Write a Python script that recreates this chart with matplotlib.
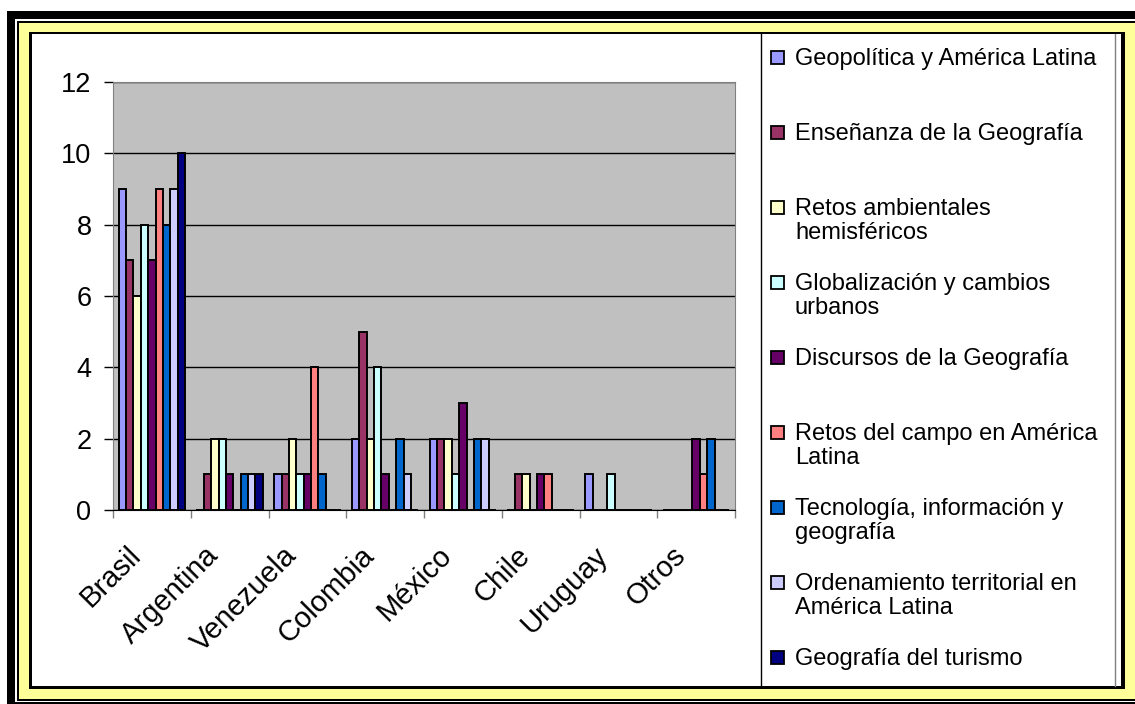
import matplotlib
matplotlib.use("Agg")
import matplotlib.pyplot as plt
from matplotlib.patches import Rectangle
from matplotlib.lines import Line2D
from matplotlib.transforms import ScaledTranslation
import numpy as np

plt.rcParams['font.family'] = ['Liberation Sans', 'DejaVu Sans']

# categories and series (number of papers per country and theme)
countries = ["Brasil", "Argentina", "Venezuela", "Colombia", "México", "Chile", "Uruguay", "Otros"]
themes = [
    "Geopolítica y América Latina",
    "Enseñanza de la Geografía",
    "Retos ambientales\nhemisféricos",
    "Globalización y cambios\nurbanos",
    "Discursos de la Geografía",
    "Retos del campo en América\nLatina",
    "Tecnología, información y\ngeografía",
    "Ordenamiento territorial en\nAmérica Latina",
    "Geografía del turismo",
]
geopolitica = [9, 0, 1, 2, 2, 0, 1, 0]
ensenanza = [7, 1, 1, 5, 2, 1, 0, 0]
retos_ambientales = [6, 2, 2, 2, 2, 1, 0, 0]
globalizacion = [8, 2, 1, 4, 1, 0, 1, 0]
discursos = [7, 1, 1, 1, 3, 1, 0, 2]
retos_campo = [9, 0, 4, 0, 0, 1, 0, 1]
tecnologia = [8, 1, 1, 2, 2, 0, 0, 2]
ordenamiento = [9, 1, 0, 1, 2, 0, 0, 0]
turismo = [10, 1, 0, 0, 0, 0, 0, 0]
series = [geopolitica, ensenanza, retos_ambientales, globalizacion, discursos,
          retos_campo, tecnologia, ordenamiento, turismo]
colors = ["#9999FF", "#993366", "#FFFFCC", "#CCFFFF", "#660066",
          "#FF8080", "#0066CC", "#CCCCFF", "#000080"]

W, H = 1135, 704
fig = plt.figure(figsize=(W / 100, H / 100), dpi=100)
fig.patch.set_facecolor("white")


def frame_rect(x0, y0, x1, y1, color, z=-10):
    # rectangle given in pixel coords (origin top-left)
    fig.add_artist(Rectangle((x0 / W, 1 - y1 / H), (x1 - x0) / W, (y1 - y0) / H,
                             transform=fig.transFigure, facecolor=color,
                             edgecolor="none", zorder=z))


# decorative border (black / white / black / yellow / black)
frame_rect(7, 11, W + 20, H + 20, "black", -10)
frame_rect(15, 19, W + 20, 702, "white", -9)
frame_rect(17, 21, W + 20, 701, "black", -8)
frame_rect(19, 23, W + 20, 699, "#FFFF99", -7)
frame_rect(29, 32, 1125, 689, "black", -6)
frame_rect(32, 34, 1121, 686, "white", -5)

# plot area
ax = fig.add_axes([113 / W, 1 - 510 / H, 622 / W, 428 / H])
ax.set_facecolor("#C0C0C0")
x = np.arange(len(countries))
w = 0.095
for i, (vals, col) in enumerate(zip(series, colors)):
    ax.bar(x + (i - 4) * w, vals, width=w, color=col, edgecolor="black",
           linewidth=1.4, zorder=3)

ax.set_xlim(-0.5, len(countries) - 0.5)
ax.set_ylim(0, 12)
ax.set_yticks(range(0, 13, 2))
ax.tick_params(axis="y", labelsize=19.5, length=6.5, width=1, pad=9, color="black")
ax.yaxis.grid(True, color="black", linewidth=1, zorder=1)
ax.set_axisbelow(True)

ax.set_xticks(x)
ax.set_xticklabels([])
ax.tick_params(axis="x", which="major", length=0)
ax.set_xticks(np.arange(-0.5, len(countries), 1), minor=True)
ax.tick_params(axis="x", which="minor", length=6, width=1, color="#808080")
for s in ax.spines.values():
    s.set_color("#808080")
ax.spines["bottom"].set_color("black")

lab_tr = ax.get_xaxis_transform() + ScaledTranslation(-15 / 100, -41 / 100, fig.dpi_scale_trans)
for xi, name in zip(x, countries):
    ax.text(xi, 0, name, transform=lab_tr, rotation=45, rotation_mode="anchor",
            ha="right", va="center", fontsize=21)

# legend box
fig.add_artist(Line2D([761 / W, 761 / W], [1 - 34 / H, 1 - 686 / H], color="black",
                      linewidth=1, transform=fig.transFigure))
fig.add_artist(Line2D([1115 / W, 1115 / W], [1 - 34 / H, 1 - 686 / H], color="#808080",
                      linewidth=1, transform=fig.transFigure))
for k, (name, col) in enumerate(zip(themes, colors)):
    yc = 57 + 75 * k
    fig.add_artist(Rectangle((771 / W, 1 - (yc + 6.5) / H), 13 / W, 13 / H,
                             transform=fig.transFigure, facecolor=col,
                             edgecolor="black", linewidth=1.3))
    for j, line in enumerate(name.split("\n")):
        fig.text(795 / W, 1 - (yc + 8 + 24 * j) / H, line, fontsize=17,
                 va="baseline", ha="left")

fig.savefig("out.png", dpi=100)
